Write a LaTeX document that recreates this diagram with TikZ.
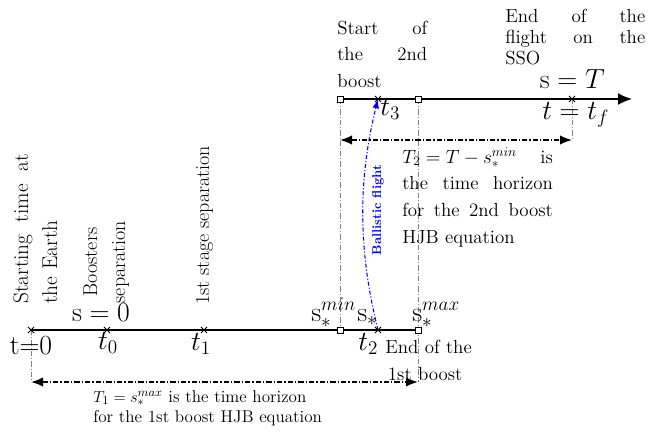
\documentclass[tikz,border=0pt]{standalone}
\usetikzlibrary{arrows.meta,shapes.misc}
\begin{document}
\begin{tikzpicture}[x=0.75pt,y=-0.75pt,
  tline/.style={line width=1.4pt},
  guide/.style={gray,line width=0.4pt,dash pattern=on 4pt off 1.5pt on 0.8pt off 1.5pt},
  horiz/.style={line width=1.2pt,dash pattern=on 4pt off 1.5pt on 1pt off 1.5pt,{Latex[length=9pt,width=7pt]}-{Latex[length=9pt,width=7pt]}},
  sq/.style={draw,fill=white,line width=0.5pt,minimum size=4.5pt,inner sep=0pt},
  tk/.style={draw,cross out,line width=0.6pt,minimum size=4pt,inner sep=0pt},
  txt/.style={font=\fontsize{14.2}{20}\selectfont,inner sep=0pt},
  mth/.style={font=\fontsize{19.5}{20}\selectfont,inner sep=0pt},
  rot/.style={font=\fontsize{15}{21}\selectfont,rotate=90,inner sep=0pt},
]
\useasboundingbox (0,0) rectangle (672,433);
% points
\coordinate (a0) at (31,330);
\coordinate (a1) at (107,330);
\coordinate (a2) at (204,330);
\coordinate (smin) at (340,330);
\coordinate (s2) at (378,330);
\coordinate (smax) at (418,330);
\coordinate (umin) at (340,99);
\coordinate (t3) at (378,99);
\coordinate (umax) at (418,99);
\coordinate (tf) at (572,99);
\coordinate (uend) at (632,99);
\coordinate (h2l) at (340,140);
\coordinate (h2r) at (572,140);
\coordinate (h1l) at (31,382);
\coordinate (h1r) at (418,382);
% guides
\draw[guide] (umin) -- (smin);
\draw[guide] (umax) -- (smax) -- (h1r);
\draw[guide] (tf) -- (h2r);
\draw[guide] (a0) -- (h1l);
% timelines
\draw[tline] (a0) -- (smax);
\draw[tline,-{Latex[length=10.5pt,width=9pt]}] (umin) -- (uend);
% horizons
\draw[horiz] (h2l) -- (h2r);
\draw[horiz] (h1l) -- (h1r);
% ballistic flight
\draw[blue,line width=0.8pt,dash pattern=on 3pt off 1.5pt on 0.8pt off 1.5pt,-{Latex[length=7pt,width=5pt]}] (s2) .. controls (358,250) and (358,180) .. (t3);
\node[rotate=90,blue,inner sep=0pt,font=\bfseries\fontsize{9.6}{10}\selectfont] (bal) at (378,210) {Ballistic flight};
% marks
\foreach \p in {a0,a1,a2,s2,t3,tf} \node[tk] at (\p) {};
\foreach \p in {smin,smax,umin,umax} \node[sq] at (\p) {};
% rotated labels
\node[rot,font=\fontsize{16}{21.75}\selectfont,anchor=base west,text width=113pt,align=left] (lstart) at (28,304) {\makebox[112pt][s]{Starting\hfill time\hfill at}\\the Earth};
\node[rot,anchor=base,text width=80pt,align=center] (lboost) at (97,262) {Boosters\\separation};
\node[rot,anchor=base west] (lsep) at (209,305) {1st stage separation};
% math labels
\node[mth,anchor=base] (ls0) at (101,321) {$\mathrm{s}=0$};
\node[mth,anchor=base] (lt0) at (31,354) {$\mathrm{t}{=}0$};
\node[mth,anchor=base] (lta) at (108,349) {$t_0$};
\node[mth,anchor=base] (ltb) at (201,350) {$t_1$};
\node[mth,anchor=base west] (lsmin) at (311,321) {$\mathrm{s}_*^{min}$};
\node[mth,anchor=base west] (lss) at (357,321) {$\mathrm{s}_*$};
\node[mth,anchor=base west] (lsmax) at (412,321) {$\mathrm{s}_*^{max}$};
\node[mth,anchor=base west] (ltc) at (358,350) {$t_2$};
\node[mth,anchor=base west] (ltd) at (380,115) {$t_3$};
\node[mth,anchor=base east] (lsT) at (605,88) {$\mathrm{s}=T$};
\node[mth,anchor=base west] (ltf) at (542,119) {$t=t_f$};
% text blocks
\node[txt,anchor=base west,text width=68pt,align=left] (lstart2) at (337,34)
  {\makebox[67.5pt][s]{Start\hfill of}\\\makebox[67.5pt][s]{the\hfill 2nd}\\boost};
\node[txt,font=\fontsize{14.2}{15.75}\selectfont,anchor=base west,text width=106pt,align=left] (lend) at (505,22)
  {\makebox[105pt][s]{End\hfill of\hfill the}\\\makebox[105pt][s]{flight\hfill on\hfill the}\\SSO};
\node[txt,anchor=base west,text width=114pt,align=left] (lT2) at (402,163)
  {\makebox[113pt][s]{\mbox{$T_2=T-s_*^{min}$}\hfill is}\\
   \makebox[113pt][s]{the\hfill time\hfill horizon}\\
   \makebox[113pt][s]{for\hfill the\hfill 2nd\hfill boost}\\
   HJB equation};
\node[txt,anchor=base west,text width=90pt,align=left,font=\fontsize{14.2}{20.25}\selectfont] (lend1) at (385,353)
  {End of the\\\hspace*{2pt}1st boost};
\node[txt,font=\fontsize{12.8}{15}\selectfont,anchor=base west,text width=260pt,align=left] (lT1) at (93,402)
  {$T_1=s_*^{max}$ is the time horizon\\for the 1st boost HJB equation};
\end{tikzpicture}
\end{document}
